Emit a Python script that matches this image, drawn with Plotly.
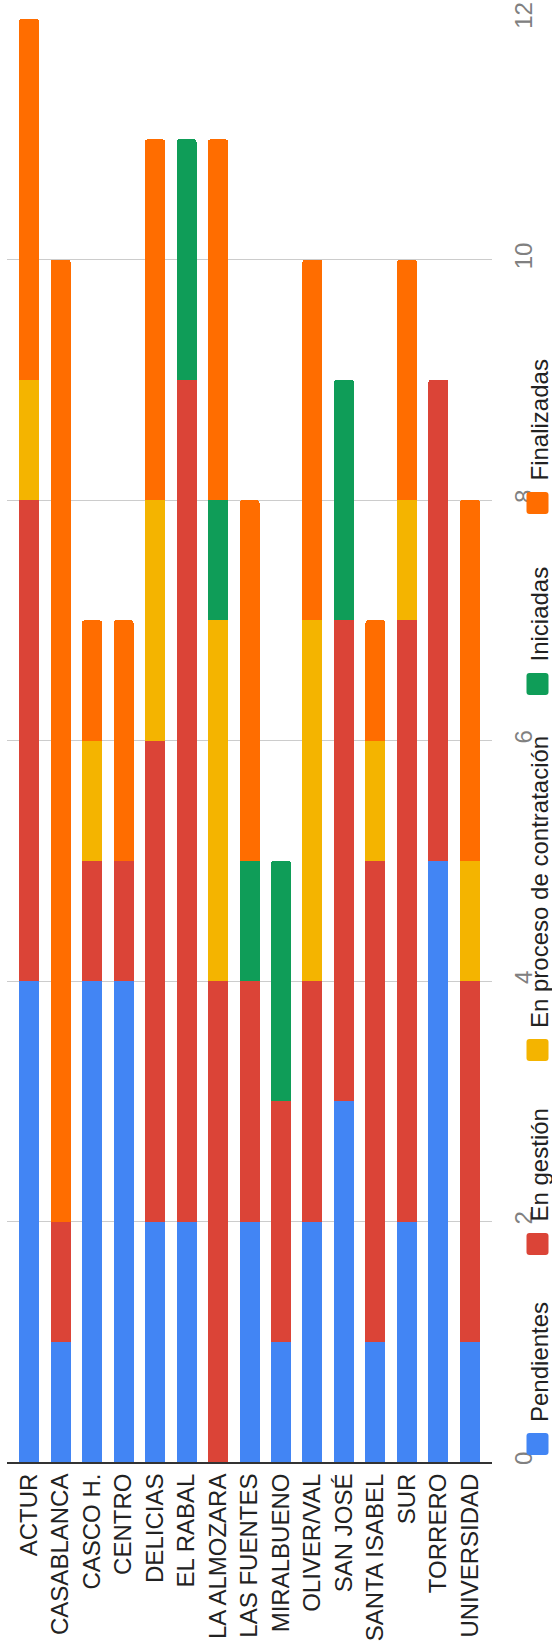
import plotly.graph_objects as go

categories = ["ACTUR", "CASABLANCA", "CASCO H.", "CENTRO", "DELICIAS", "EL RABAL",
              "LA ALMOZARA", "LAS FUENTES", "MIRALBUENO", "OLIVER/VAL", "SAN JOSÉ",
              "SANTA ISABEL", "SUR", "TORRERO", "UNIVERSIDAD"]
pendientes = [4, 1, 4, 4, 2, 2, 0, 2, 1, 2, 3, 1, 2, 5, 1]
en_gestion = [4, 1, 1, 1, 4, 7, 4, 2, 2, 2, 4, 4, 5, 4, 3]
en_proceso = [1, 0, 1, 0, 2, 0, 3, 0, 0, 3, 0, 1, 1, 0, 1]
iniciadas = [0, 0, 0, 0, 0, 2, 1, 1, 2, 0, 2, 0, 0, 0, 0]
finalizadas = [3, 8, 1, 2, 3, 0, 3, 3, 0, 3, 0, 1, 2, 0, 3]
series_names = ["Pendientes", "En gestión", "En proceso de contratación", "Iniciadas", "Finalizadas"]
series_values = [pendientes, en_gestion, en_proceso, iniciadas, finalizadas]
colors = ["#4285F4", "#DB4437", "#F4B400", "#0F9D58", "#FF6D00"]
y_ticks = [0, 2, 4, 6, 8, 10, 12]

W, H = 552, 1651
ML, MR, MT, MB = 7, 60, 19, 189
PW = W - ML - MR
PH = H - MT - MB
FONT = "Liberation Sans, Arial, sans-serif"

fig = go.Figure()
for name, vals, col in zip(series_names, series_values, colors):
    fig.add_trace(go.Bar(
        x=categories, y=[v if v else None for v in vals], name=name,
        marker=dict(color=col, line=dict(width=0)), showlegend=False,
    ))

def px_x(px):
    return (px - ML) / PW

def px_y(py):
    return (H - MB - py) / PH

# legend drawn as rotated items (square + label)
sq_centers = [1444, 1244, 1050, 684, 503]
sq = 22
r = 3
cx = 537.5
shapes = []
annotations = []
for name, col, cy in zip(series_names, colors, sq_centers):
    x0, x1 = cx - sq / 2, cx + sq / 2
    y0, y1 = cy - sq / 2, cy + sq / 2
    path = (f"M {px_x(x0 + r)} {px_y(y0)} L {px_x(x1 - r)} {px_y(y0)} "
            f"Q {px_x(x1)} {px_y(y0)} {px_x(x1)} {px_y(y0 + r)} "
            f"L {px_x(x1)} {px_y(y1 - r)} Q {px_x(x1)} {px_y(y1)} {px_x(x1 - r)} {px_y(y1)} "
            f"L {px_x(x0 + r)} {px_y(y1)} Q {px_x(x0)} {px_y(y1)} {px_x(x0)} {px_y(y1 - r)} "
            f"L {px_x(x0)} {px_y(y0 + r)} Q {px_x(x0)} {px_y(y0)} {px_x(x0 + r)} {px_y(y0)} Z")
    shapes.append(dict(type="path", xref="paper", yref="paper", path=path,
                       fillcolor=col, line=dict(width=0)))
    annotations.append(dict(
        text=name, xref="paper", yref="paper", x=px_x(539), y=px_y(cy - 20),
        xanchor="center", yanchor="bottom", textangle=-90, showarrow=False,
        font=dict(family=FONT, size=24, color="#222222"),
    ))

fig.update_layout(
    width=W, height=H,
    margin=dict(l=ML, r=MR, t=MT, b=MB, autoexpand=False),
    paper_bgcolor="white", plot_bgcolor="white",
    barmode="stack", bargap=0.365, barcornerradius=3,
    font=dict(family=FONT, size=24, color="#222222"),
    shapes=shapes, annotations=annotations,
    xaxis=dict(
        type="category", categoryorder="array", categoryarray=categories,
        range=[-0.7, 14.7], tickangle=-90, showgrid=False, zeroline=False,
        showline=True, linecolor="#333333", linewidth=2, ticks="",
        tickfont=dict(family=FONT, size=24, color="#222222"),
        automargin=False, fixedrange=True,
    ),
    yaxis=dict(
        side="right", range=[0, 12], tickvals=y_ticks, ticktext=[str(t) for t in y_ticks],
        tickangle=-90, showgrid=True, gridcolor="#cccccc", gridwidth=1,
        zeroline=False, showline=False, ticks="", ticklabelstandoff=15,
        tickfont=dict(family=FONT, size=24, color="#808080"),
        automargin=False, fixedrange=True,
    ),
)

fig.write_html(
    "out.html",
    config={"displayModeBar": False},
    post_script="document.body.style.margin='0';document.body.style.overflow='hidden';",
)
